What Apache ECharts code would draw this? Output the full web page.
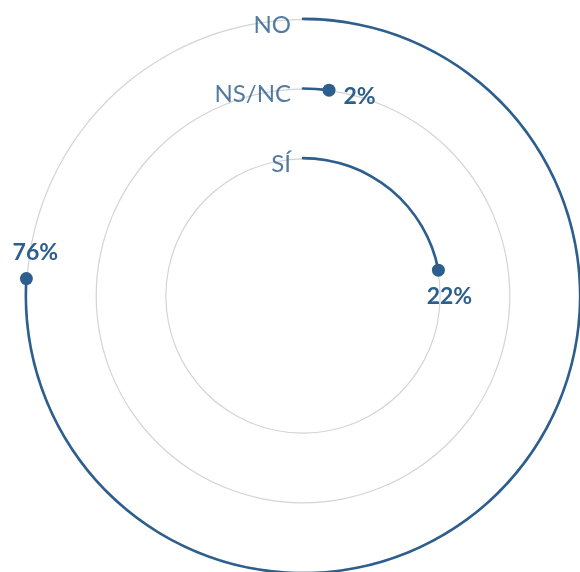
<!DOCTYPE html>
<html>
<head>
<meta charset="utf-8">
<script src="https://cdn.jsdelivr.net/npm/echarts@6/dist/echarts.min.js"></script>
<style>
  html, body { margin: 0; padding: 0; background: #fff; }
  #grafico { width: 580px; height: 572px; }
</style>
</head>
<body>
<div id="grafico"></div>
<script>
// Datos de la encuesta (porcentajes)
const categorias = ["SÍ", "NS/NC", "NO"];
const valores = [22, 2, 76];

const AZUL = "#2c5e8e";
const GRIS = "#d4d4d4";

// posicion de la etiqueta del porcentaje en cada punto final
const posEtiquetas = [
  { position: "bottom", offset: [11, 0] },
  { position: "right", offset: [0, 6] },
  { position: "top", offset: [9, 0] },
];

var myChart = echarts.init(document.getElementById("grafico"));

var option = {
  animation: false,
  polar: {
    center: [303, 296],
    radius: [103, 312],
  },
  angleAxis: {
    type: "value",
    min: 0,
    max: 100,
    startAngle: 90,
    clockwise: true,
    show: false,
  },
  radiusAxis: {
    type: "category",
    data: categorias,
    show: false,
  },
  series: [
    {
      // anillos grises de fondo
      type: "bar",
      coordinateSystem: "polar",
      data: categorias.map(() => 100),
      barWidth: 1.2,
      barGap: "-100%",
      itemStyle: { color: GRIS },
      silent: true,
      z: 1,
    },
    {
      name: "Respuesta",
      type: "bar",
      coordinateSystem: "polar",
      data: valores,
      barWidth: 2.6,
      barGap: "-100%",
      roundCap: true,
      itemStyle: { color: AZUL },
      z: 2,
    },
    {
      // puntos finales con porcentaje
      type: "scatter",
      coordinateSystem: "polar",
      symbolSize: 13,
      itemStyle: { color: AZUL, opacity: 1 },
      data: categorias.map((c, i) => ({
        value: [c, valores[i]],
        label: {
          show: true,
          position: posEtiquetas[i].position,
          offset: posEtiquetas[i].offset,
          distance: 8,
          formatter: valores[i] + "%",
          color: AZUL,
          fontFamily: "Lato",
          fontWeight: "bold",
          fontSize: 23,
        },
      })),
      z: 3,
    },
    {
      // nombres de las categorias al inicio de cada anillo
      type: "scatter",
      coordinateSystem: "polar",
      symbolSize: 0,
      data: categorias.map((c) => ({ name: c, value: [c, 0] })),
      label: {
        show: true,
        position: "left",
        distance: 12,
        offset: [0, 6],
        formatter: "{b}",
        color: "#275a8a",
        fontFamily: "Lato",
        fontWeight: "normal",
        fontSize: 24,
      },
      silent: true,
      z: 3,
    },
  ],
};

myChart.setOption(option);
</script>
</body>
</html>
